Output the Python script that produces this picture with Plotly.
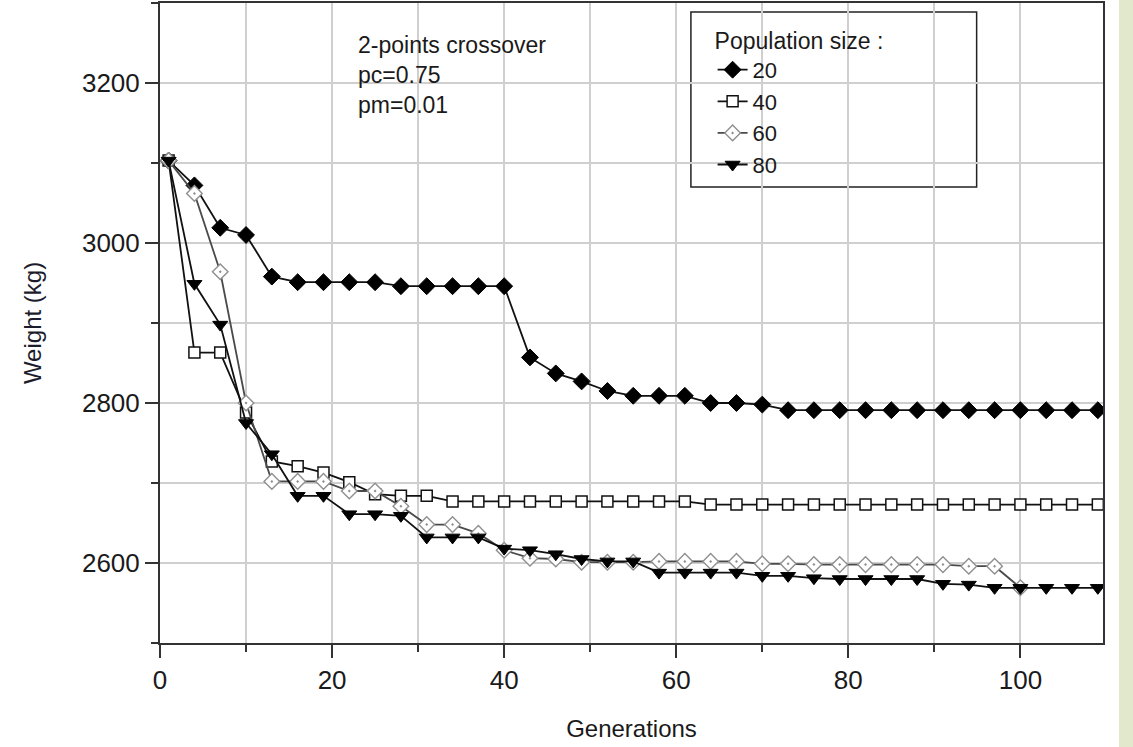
import plotly.graph_objects as go

# ---- data ----
generations = [1, 4, 7, 10, 13, 16, 19, 22, 25, 28, 31, 34, 37, 40, 43, 46, 49, 52, 55,
               58, 61, 64, 67, 70, 73, 76, 79, 82, 85, 88, 91, 94, 97, 100, 103, 106, 109]

pop20 = [3103, 3072, 3019, 3010, 2958, 2951, 2951, 2951, 2951, 2946, 2946, 2946, 2946, 2946,
         2857, 2837, 2827, 2815, 2809, 2809, 2809, 2800, 2800, 2798,
         2791, 2791, 2791, 2791, 2791, 2791, 2791, 2791, 2791, 2791, 2791, 2791, 2791]

pop40 = [3103, 2863, 2863, 2788, 2727, 2721, 2713, 2701, 2686, 2684, 2684,
         2677, 2677, 2677, 2677, 2677, 2677, 2677, 2677, 2677, 2677,
         2673, 2673, 2673, 2673, 2673, 2673, 2673, 2673, 2673, 2673, 2673, 2673, 2673, 2673, 2673, 2673]

pop60 = [3103, 3062, 2964, 2800, 2702, 2702, 2702, 2690, 2690, 2671, 2648, 2648, 2637, 2616,
         2606, 2605, 2601, 2601, 2601, 2602, 2602, 2602, 2602, 2599, 2599,
         2598, 2598, 2598, 2598, 2598, 2598, 2596, 2596, 2569, None, None, None]

pop80 = [3103, 2949, 2898, 2775, 2736, 2684, 2684, 2661, 2661, 2659, 2632, 2632, 2632, 2618,
         2616, 2611, 2605, 2602, 2602, 2588, 2588, 2588, 2588, 2584, 2584,
         2581, 2580, 2580, 2580, 2580, 2574, 2573, 2569, 2569, 2569, 2569, 2569]

series_names = ["20", "40", "60", "80"]
x_ticks = [0, 20, 40, 60, 80, 100]
y_ticks = [2600, 2800, 3000, 3200]
note_lines = ["2-points crossover", "pc=0.75", "pm=0.01"]
legend_title = "Population size :"

FONT = "Liberation Sans, Arial, sans-serif"
INK = "#1a1a1a"

fig = go.Figure()

styles = [
    dict(line=dict(color="#111111", width=1.8),
         marker=dict(symbol="diamond", size=13, color="#000000", line=dict(color="#000000", width=1))),
    dict(line=dict(color="#111111", width=1.8),
         marker=dict(symbol="square", size=11, color="#ffffff", line=dict(color="#111111", width=1.5))),
    dict(line=dict(color="#4a4a4a", width=1.8),
         marker=dict(symbol="diamond-dot", size=12, color="#ffffff", line=dict(color="#8f8f8f", width=1.4))),
    dict(line=dict(color="#111111", width=1.8),
         marker=dict(symbol="triangle-down", size=13, color="#000000", line=dict(color="#000000", width=1))),
]

for name, vals, st in zip(series_names, [pop20, pop40, pop60, pop80], styles):
    fig.add_trace(go.Scatter(x=generations, y=vals, name=name, mode="lines+markers",
                             line=st["line"], marker=st["marker"], connectgaps=False))

grid = "#cfcfcf"
fig.update_xaxes(
    range=[0, 109.6], tickvals=x_ticks, ticks="outside", ticklen=13, tickwidth=1.5,
    tickcolor="#333333", showline=True, linecolor="#333333", linewidth=2, mirror=True,
    showgrid=True, gridcolor=grid, gridwidth=1.5, zeroline=False,
    minor=dict(dtick=10, tick0=0, ticks="outside", ticklen=7, tickwidth=1.5, tickcolor="#333333",
               showgrid=True, gridcolor=grid, gridwidth=1.5),
    tickfont=dict(family=FONT, size=26, color=INK),
    title=dict(text="Generations", font=dict(family=FONT, size=24, color=INK), standoff=26),
    automargin=False,
)
fig.update_yaxes(
    range=[2500, 3300], tickvals=y_ticks, ticks="outside", ticklen=13, tickwidth=1.5,
    tickcolor="#333333", showline=True, linecolor="#333333", linewidth=2, mirror=True,
    showgrid=True, gridcolor=grid, gridwidth=1.5, zeroline=False,
    minor=dict(dtick=100, tick0=2500, ticks="outside", ticklen=7, tickwidth=1.5, tickcolor="#333333",
               showgrid=True, gridcolor=grid, gridwidth=1.5),
    tickfont=dict(family=FONT, size=26, color=INK),
    title=dict(text="Weight (kg)", font=dict(family=FONT, size=24, color="#1c1c2c"), standoff=34),
    automargin=False,
)

fig.add_annotation(xref="paper", yref="paper", x=0.208, y=0.958, xanchor="left", yanchor="top",
                   text="<br>".join(note_lines), showarrow=False, align="left",
                   font=dict(family=FONT, size=23, color=INK))

# legend frame
fig.add_shape(type="rect", xref="paper", yref="paper", x0=0.563, x1=0.866, y0=0.7125, y1=0.986,
              line=dict(color="#222222", width=1.5), fillcolor="white", layer="below")
# light green page strip on the right
fig.add_shape(type="rect", xref="paper", yref="paper", x0=1.017, x1=1.04, y0=-0.17, y1=1.01,
              line=dict(width=0), fillcolor="#e2e8cc", layer="below")

fig.update_layout(
    width=1133, height=747,
    margin=dict(l=160, r=30, t=3, b=104),
    paper_bgcolor="white", plot_bgcolor="rgba(0,0,0,0)",
    font=dict(family=FONT, color=INK),
    showlegend=True,
    legend=dict(x=0.586, y=0.975, xanchor="left", yanchor="top",
                bgcolor="rgba(0,0,0,0)", borderwidth=0,
                title=dict(text=legend_title, font=dict(family=FONT, size=23, color=INK)),
                font=dict(family=FONT, size=22, color=INK), itemwidth=30),
)

fig.write_html("out.html", config={"displayModeBar": False},
               post_script="document.body.style.margin='0px';document.body.style.overflow='hidden';")
